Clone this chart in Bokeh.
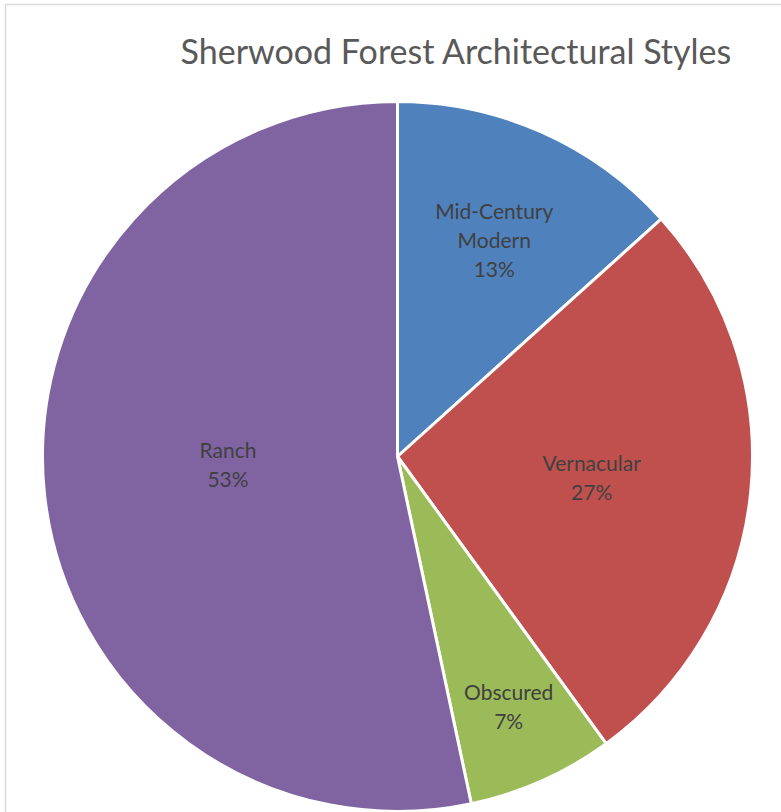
import math
from bokeh.plotting import figure
from bokeh.models import Range1d, ColumnDataSource
from bokeh.core.properties import value
from bokeh.embed import file_html
from bokeh.resources import INLINE

# Data
categories = ["Mid-Century Modern", "Vernacular", "Obscured", "Ranch"]
label_lines = [["Mid-Century", "Modern"], ["Vernacular"], ["Obscured"], ["Ranch"]]
counts = [20, 40, 10, 80]
colors = ["#4F81BD", "#C0504D", "#9BBB59", "#8064A2"]
title = "Sherwood Forest Architectural Styles"

W, H = 781, 812
cx, cy = 397, H - 456
R = 355
label_r = [0.67, 0.55, 0.77, 0.48]
label_dy = [0, 0, 0, 10]

p = figure(width=W, height=H, output_backend="svg", toolbar_location=None,
           x_range=Range1d(0, W), y_range=Range1d(0, H), min_border=0)
p.axis.visible = False
p.grid.visible = False
p.outline_line_color = None
p.background_fill_color = "white"
p.border_fill_color = "white"

total = sum(counts)
starts, ends, pcts = [], [], []
cum = 0.0
for c in counts:
    frac = c / total
    starts.append(math.pi / 2 - cum * 2 * math.pi)
    ends.append(math.pi / 2 - (cum + frac) * 2 * math.pi)
    pcts.append(frac)
    cum += frac

src = ColumnDataSource(dict(x=[cx] * len(counts), y=[cy] * len(counts),
                            start=starts, end=ends, color=colors))
p.wedge(x="x", y="y", radius=R, start_angle="start", end_angle="end",
        direction="clock", fill_color="color", line_color="white",
        line_width=3, source=src)

# labels
tx, ty, tt = [], [], []
line_h = 29
for i, lines in enumerate(label_lines):
    mid = (starts[i] + ends[i]) / 2
    lx = cx + R * label_r[i] * math.cos(mid)
    ly = cy + R * label_r[i] * math.sin(mid) + label_dy[i]
    all_lines = lines + [f"{round(pcts[i] * 100)}%"]
    n = len(all_lines)
    for k, t in enumerate(all_lines):
        tx.append(lx)
        ty.append(ly + (n - 1) / 2 * line_h - k * line_h)
        tt.append(t)
p.text(x=tx, y=ty, text=tt, text_align="center", text_baseline="middle",
       text_font=value("Lato"), text_font_size="21px", text_color="#404040")

# title
p.text(x=[456], y=[H - 50], text=[title], text_align="center",
       text_baseline="middle", text_font=value("Lato"),
       text_font_size="34px", text_color="#595959")

# chart area border
p.line(x=[5, 5, W + 10], y=[-10, H - 4, H - 4], line_color="#D9D9D9", line_width=1.5)

open("out.html", "w").write(file_html(p, INLINE))
